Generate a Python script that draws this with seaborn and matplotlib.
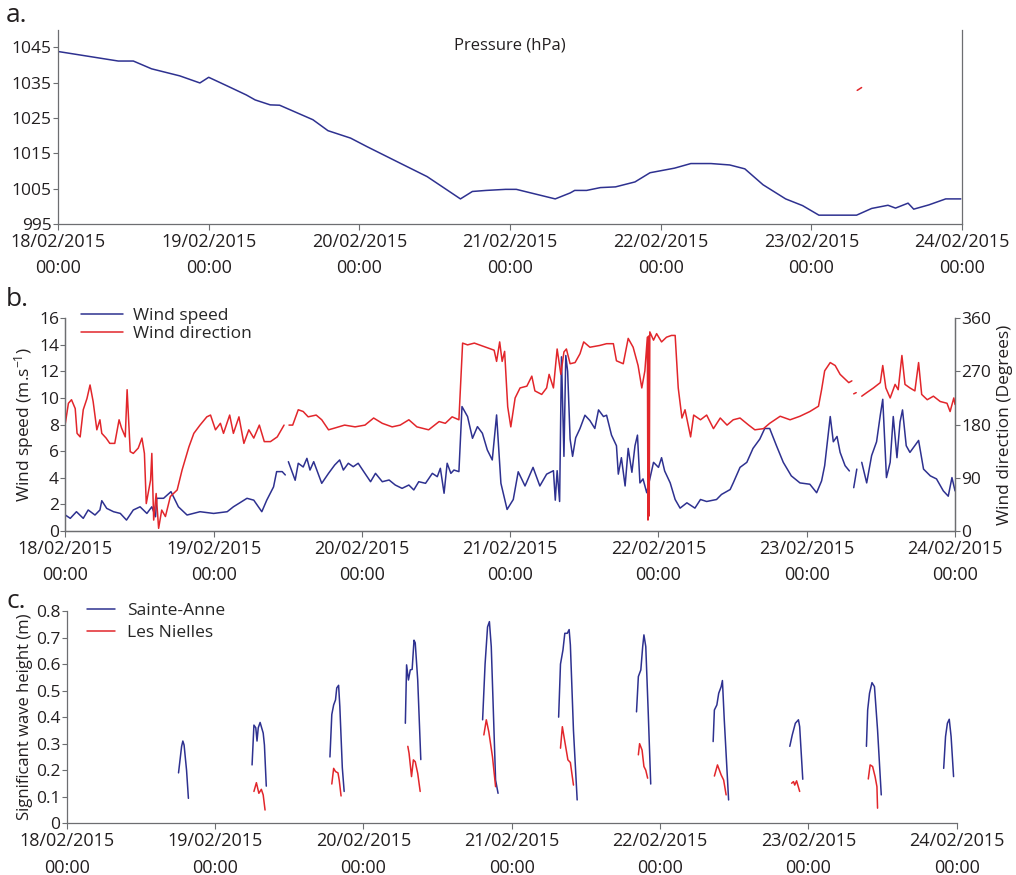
import numpy as np
import pandas as pd
import matplotlib
matplotlib.use('Agg')
from matplotlib import pyplot as plt
import matplotlib.dates as mdates
from matplotlib.lines import Line2D
from matplotlib.ticker import FuncFormatter
import seaborn as sns

sns.set_style('ticks')
plt.rcParams['font.family'] = ['Open Sans', 'DejaVu Sans']
plt.rcParams['mathtext.default'] = 'regular'

nan = np.nan
START = pd.Timestamp('2015-02-18 00:00')

# --- a. pressure (hours since 18/02/2015 00:00, hPa)
pressure_hours = [0, 9.6, 12.0, 14.9, 19.4, 22.6, 24.0, 26.9, 30.0, 31.4, 33.8, 35.3,
                  40.6, 43.0, 46.6, 49.2, 54.5, 58.8, 64.1, 66.0, 68.2, 71.3,
                  73.0, 79.2, 81.6, 82.3, 84.2, 86.4, 88.8, 91.9, 94.3, 98.2,
                  100.8, 104.0, 107.0, 109.4, 112.3, 115.9, 118.6, 121.2, 127.2,
                  129.6, 132.2, 133.4, 135.4, 136.3, 138.7, 141.4, 143.8]
pressure_hpa = [1043.8, 1041.1, 1041.1, 1038.9, 1036.9, 1034.9, 1036.5, 1034.1, 1031.5, 1030.1,
                1028.7, 1028.6, 1024.5, 1021.4, 1019.3, 1016.9, 1012.2, 1008.4, 1002.1, 1004.2,
                1004.5, 1004.8, 1004.8, 1002.1, 1003.8, 1004.5, 1004.5, 1005.3, 1005.5, 1006.9,
                1009.5, 1010.8, 1012.1, 1012.1, 1011.7, 1010.6, 1006.1, 1002.1, 1000.2, 997.5,
                997.5, 999.4, 1000.3, 999.5, 1000.9, 999.2, 1000.4, 1002.1, 1002.1]
pressure_red_hours = [127.3, 128.0]
pressure_red_hpa = [1032.8, 1033.6]

# --- b. wind speed (m/s) and direction (deg); nan = data gap
speed_hours = [0, 0.8, 1.8, 2.9, 3.7, 4.8, 5.6, 5.9, 6.7, 7.8, 8.9, 9.9, 11.0, 12.1, 13.2,
               14.0, 14.6, 14.8, 15.9, 17.1, 18.3, 19.7, 21.8, 24.0, 26.2, 27.2, 28.1, 29.4,
               30.5, 31.8, 32.6, 33.7, 34.2, 35.1, 35.6, nan,
               36.1, 37.2, 37.7, 38.5, 39.1, 39.6, 40.2, 40.9, 41.5, 42.6, 43.6, 44.4, 45.0,
               45.8, 46.6, 47.4, 48.3, 49.4, 50.2, 51.3, 52.4, 53.4, 54.5, 55.6, 56.4, 57.2,
               58.3, 59.4, 60.2, 60.7, 61.3, 61.8, 62.4, 62.9, 63.7, 64.2, 65.1,
               65.9, 66.7, 67.5, 68.3, 69.1, 69.8, 70.5, 71.5, 72.5, 73.3, 74.4, 75.7, 76.8,
               77.9, 79.0, 79.3, 79.6, 80.0, 80.3, 80.7, 81.0, 81.3, 81.7, 82.1, 82.6, 83.3,
               84.1, 84.9, 85.7, 86.3, 87.1, 87.6, 88.4, 89.2, 89.5, 90.0, 90.6, 91.1, 91.7,
               92.2, 92.6, 93.0, 93.5, 94.1, 94.6, 95.2, 96.0, 96.5, 97.0, 97.9, 98.7, 99.5,
               100.6, 101.9, 102.8, 103.8, 105.4, 106.2, 107.6, 108.1, 109.2, 110.3, 111.3,
               112.4, 113.2, 114.0, 115.1, 116.2, 117.5, 118.9, 120.5, 121.6, 122.4, 122.9,
               123.8, 124.3, 124.9, 125.4, 126.2, 126.9, nan,
               127.6, 128.1, nan,
               128.9, 129.7, 130.5, 131.3, 131.9, 132.3, 132.9, 133.5, 134.0, 134.6, 135.1,
               135.5, 136.1, 136.7, 138.1, 138.9, 140.0, 141.0, 142.1, 142.9, 143.5, 144.0]
speed_ms = [1.18, 0.93, 1.43, 0.93, 1.56, 1.18, 1.56, 2.26, 1.68, 1.43, 1.3, 0.8, 1.56, 1.8, 1.3,
            1.8, 1.05, 2.44, 2.44, 2.94, 1.8, 1.18, 1.43, 1.3, 1.43, 1.8, 2.06, 2.44,
            2.3, 1.43, 2.3, 3.3, 4.45, 4.45, 4.2, nan,
            5.2, 3.8, 5.08, 4.8, 5.45, 4.57, 5.2, 4.32, 3.57, 4.32, 4.95, 5.33, 4.57,
            5.08, 4.82, 5.08, 4.45, 3.69, 4.32, 3.69, 3.82, 3.44, 3.19, 3.44, 3.07, 3.69,
            3.57, 4.32, 4.07, 4.7, 2.82, 5.08, 4.32, 4.57, 4.45, 9.35, 8.6,
            6.96, 7.84, 7.34, 6.08, 5.33, 8.72, 3.57, 1.6, 2.35, 4.44, 3.37, 4.77, 3.37,
            4.26, 4.52, 2.3, 4.52, 2.2, 13.1, 5.6, 13.2, 12.0, 6.9, 5.6, 7.0, 7.7,
            8.7, 8.3, 7.7, 9.1, 8.6, 8.7, 7.2, 6.4, 4.26, 5.5, 3.37, 6.2, 4.4,
            6.4, 7.2, 3.6, 3.9, 2.86, 3.9, 5.15, 4.77, 5.5, 4.5, 3.6, 2.35, 1.7,
            2.1, 1.7, 2.35, 2.2, 2.35, 2.73, 3.1, 3.6, 4.77, 5.15, 6.2,
            6.9, 7.7, 7.7, 6.4, 5.15, 4.13, 3.6, 3.5, 2.86, 3.75, 4.9,
            8.6, 6.7, 7.1, 5.9, 4.9, 4.5, nan,
            3.24, 4.64, nan,
            5.15, 3.6, 5.66, 6.7, 8.7, 9.9, 4.0, 5.15, 8.6, 5.5, 8.2,
            9.1, 6.4, 5.9, 6.8, 4.64, 4.13, 3.9, 3.0, 2.6, 4.0, 3.0]

direction_hours = [0, 0.5, 1.0, 1.6, 1.9, 2.4, 2.9, 3.5, 4.0, 4.5, 5.1, 5.6, 5.9, 6.6, 7.2,
                   8.0, 8.7, 9.1, 9.7, 10.0, 10.5, 11.0, 11.8, 12.4, 12.8, 13.1, 13.8, 14.0,
                   14.3, 14.7, 15.1, 15.6, 16.2, 17.0, 18.1, 18.9, 20.0, 20.8, 21.8, 22.9,
                   23.5, 24.3, 25.1, 25.6, 26.6, 27.2, 28.1, 28.9, 29.7, 30.5, 31.4, 32.2,
                   33.2, 34.3, 35.4, nan,
                   36.2, 36.8, 37.7, 38.5, 39.3, 40.6, 41.5, 42.6, 43.6, 45.2, 46.9, 48.5,
                   49.9, 51.3, 52.9, 54.2, 55.6, 56.9, 58.8, 60.5, 61.5, 62.6, 63.7, 64.3,
                   65.1, 66.2, 67.8, 69.4, 69.8, 70.3, 70.7, 71.1, 71.6, 72.1, 72.8, 73.6,
                   74.7, 75.5, 76.0, 77.1, 77.9, 78.3, 79.0, 79.6, 80.2, 80.7, 81.1, 81.7,
                   82.5, 83.3, 83.9, 84.9, 86.5, 87.6, 88.7, 89.2, 90.3, 91.1, 91.9, 92.7,
                   93.3, 93.8, 94.2, 94.3, 94.4, 94.5, 94.6, 95.2, 95.7, 96.5, 97.3, 98.1,
                   98.7, 99.2, 99.8, 100.3, 101.2, 101.7, 102.8, 103.8, 104.9, 106.0, 107.1,
                   108.1, 109.2, 110.6, 111.6, 113.0, 114.0, 115.7, 117.3, 118.9, 120.5,
                   121.9, 122.4, 122.9, 123.8, 124.6, 125.4, 126.2, 126.8, 127.3, nan,
                   127.6, 128.0, nan,
                   128.9, 129.7, 130.8, 131.9, 132.3, 132.8, 133.5, 134.3, 134.8, 135.4,
                   135.9, 136.7, 137.5, 138.1, 138.6, 139.5, 140.5, 141.6, 142.7, 143.2,
                   143.8, 144.0]
direction_deg = [182, 216, 222, 207, 165, 159, 205, 224, 247, 219, 171, 188, 165, 157, 148,
                 148, 188, 174, 159, 239, 134, 131, 140, 157, 131, 46, 86, 131,
                 18, 63, 4, 35, 24, 58, 69, 103, 142, 165, 179, 193,
                 196, 171, 182, 165, 196, 165, 193, 148, 171, 157, 179, 151,
                 151, 159, 179, nan,
                 179, 179, 205, 202, 193, 196, 188, 171, 174, 179, 176, 179,
                 191, 182, 176, 179, 188, 176, 171, 185, 182, 193, 188, 318,
                 315, 318, 312, 306, 287, 320, 287, 304, 210, 176, 225, 242,
                 245, 262, 237, 231, 242, 265, 242, 308, 265, 303, 308, 283,
                 285, 300, 320, 311, 314, 317, 317, 288, 283, 326, 311, 280,
                 242, 271, 328, 18, 330, 25, 337, 323, 334, 320, 328, 331,
                 331, 242, 191, 205, 159, 196, 188, 196, 173, 191, 179,
                 188, 191, 179, 171, 173, 182, 194, 188, 194, 202,
                 211, 239, 271, 285, 280, 265, 257, 251, 254, nan,
                 232, 234, nan,
                 228, 234, 242, 251, 280, 242, 225, 248, 239, 297,
                 248, 242, 237, 285, 231, 222, 228, 219, 216, 202,
                 225, 214]

# --- c. significant wave height (m); nan separates tidal windows
sainte_anne_hours = [18.1, 18.4, 18.6, 18.8, 19.0, 19.4, 19.7, nan,
                     30.0, 30.3, 30.6, 30.8, 31.0, 31.3, 31.8, 32.0, 32.3, nan,
                     42.6, 42.9, 43.2, 43.5, 43.7, 44.0, 44.2, 44.6, 44.9, nan,
                     54.8, 55.0, 55.3, 55.6, 55.9, 56.2, 56.4, 56.8, 57.3, nan,
                     67.3, 67.7, 68.1, 68.4, 68.7, 69.4, 69.8, nan,
                     79.6, 79.9, 80.3, 80.6, 81.0, 81.3, 81.5, 82.0, 82.6, nan,
                     92.2, 92.5, 92.9, 93.2, 93.4, 93.7, 94.1, 94.5, nan,
                     104.6, 104.8, 105.2, 105.5, 105.9, 106.1, 106.4, 107.1, nan,
                     117.0, 117.4, 117.9, 118.4, 118.6, 119.1, nan,
                     129.4, 129.6, 129.9, 130.3, 130.7, 131.2, 131.8, nan,
                     141.9, 142.2, 142.5, 142.8, 143.1, 143.5]
sainte_anne_m = [0.19, 0.25, 0.29, 0.31, 0.295, 0.20, 0.094, nan,
                 0.22, 0.37, 0.36, 0.31, 0.36, 0.38, 0.34, 0.295, 0.14, nan,
                 0.25, 0.41, 0.446, 0.465, 0.51, 0.52, 0.44, 0.21, 0.12, nan,
                 0.377, 0.597, 0.54, 0.578, 0.58, 0.69, 0.68, 0.54, 0.24, nan,
                 0.39, 0.60, 0.74, 0.76, 0.666, 0.163, 0.113, nan,
                 0.40, 0.60, 0.653, 0.716, 0.716, 0.73, 0.672, 0.35, 0.088, nan,
                 0.42, 0.553, 0.578, 0.666, 0.71, 0.666, 0.415, 0.148, nan,
                 0.308, 0.427, 0.446, 0.49, 0.515, 0.538, 0.39, 0.088, nan,
                 0.29, 0.333, 0.377, 0.39, 0.364, 0.166, nan,
                 0.29, 0.427, 0.49, 0.53, 0.515, 0.352, 0.107, nan,
                 0.207, 0.327, 0.377, 0.392, 0.327, 0.176]
les_nielles_hours = [30.3, 30.7, 31.1, 31.5, 31.8, 32.1, nan,
                     42.9, 43.2, 43.5, 43.9, 44.1, 44.4, nan,
                     55.2, 55.4, 55.8, 56.1, 56.4, 56.8, 57.2, nan,
                     67.5, 67.9, 68.3, 68.9, 69.4, nan,
                     79.9, 80.2, 80.6, 81.1, 81.5, 82.0, nan,
                     92.5, 92.7, 93.1, 93.4, 93.7, 94.0, nan,
                     104.8, 105.3, 105.9, 106.3, 106.7, nan,
                     117.3, 117.6, 117.8, 118.1, 118.6, nan,
                     129.7, 130.0, 130.4, 130.8, 131.1, 131.2]
les_nielles_m = [0.12, 0.153, 0.113, 0.128, 0.107, 0.05, nan,
                 0.148, 0.207, 0.195, 0.19, 0.163, 0.103, nan,
                 0.29, 0.264, 0.176, 0.239, 0.232, 0.188, 0.12, nan,
                 0.333, 0.39, 0.345, 0.25, 0.138, nan,
                 0.283, 0.364, 0.308, 0.239, 0.229, 0.144, nan,
                 0.258, 0.30, 0.276, 0.214, 0.20, 0.17, nan,
                 0.178, 0.22, 0.182, 0.163, 0.107, nan,
                 0.151, 0.157, 0.144, 0.16, 0.12, nan,
                 0.167, 0.22, 0.214, 0.176, 0.138, 0.057]

BLUE = '#2e3190'
RED = '#e2262b'
GREY = '#6d6e71'
TXT = '#231f20'


def to_frame(hours, values):
    df = pd.DataFrame({'hour': hours, 'value': values})
    df['seg'] = df['value'].isna().cumsum()
    df = df.dropna().copy()
    df['time'] = START + pd.to_timedelta(df['hour'], unit='h')
    return df


def draw(ax, hours, values, color):
    sns.lineplot(data=to_frame(hours, values), x='time', y='value', units='seg',
                 estimator=None, color=color, lw=1.1, ax=ax, legend=False)


def style_axes(ax):
    ax.set_xlim(START, START + pd.Timedelta(days=6))
    ax.xaxis.set_major_locator(mdates.DayLocator())
    ax.xaxis.set_major_formatter(mdates.DateFormatter('%d/%m/%Y\n%H:%M'))
    ax.set_xlabel('')
    ax.tick_params(axis='x', labelsize=13, length=4.5, width=0.8, color=GREY,
                   labelcolor=TXT, pad=2)
    ax.tick_params(axis='y', labelsize=12.5, length=3.5, width=0.8, color=GREY,
                   labelcolor=TXT, pad=1)
    for s in ax.spines.values():
        s.set_color(GREY)
        s.set_linewidth(0.9)
    ax.spines['top'].set_visible(False)
    for lab in ax.get_xticklabels():
        lab.set_linespacing(1.6)


fig = plt.figure(figsize=(10.16, 8.75), dpi=100)
fig.patch.set_facecolor('white')

# a. pressure
ax_a = fig.add_axes([0.0571, 0.744, 0.8898, 0.2222])
draw(ax_a, pressure_hours, pressure_hpa, BLUE)
draw(ax_a, pressure_red_hours, pressure_red_hpa, RED)
style_axes(ax_a)
ax_a.set_ylim(995, 1050)
ax_a.set_yticks(np.arange(995, 1046, 10))
ax_a.set_ylabel('')
ax_a.spines['right'].set_visible(True)
ax_a.text(0.5, 0.92, 'Pressure (hPa)', transform=ax_a.transAxes, ha='center',
          va='center', fontsize=12, color=TXT)

# b. wind
ax_b = fig.add_axes([0.0643, 0.3935, 0.8757, 0.2427])
draw(ax_b, speed_hours, speed_ms, BLUE)
ax_b2 = ax_b.twinx()
draw(ax_b2, direction_hours, direction_deg, RED)
style_axes(ax_b)
style_axes(ax_b2)
ax_b2.spines['right'].set_visible(True)
ax_b.set_ylim(0, 16)
ax_b.set_yticks(np.arange(0, 17, 2))
ax_b2.set_ylim(0, 360)
ax_b2.set_yticks([0, 90, 180, 270, 360])
ax_b.set_ylabel('Wind speed (m.s$^{-1}$)', fontsize=12.5, color=TXT, labelpad=2)
ax_b2.set_ylabel('Wind direction (Degrees)', fontsize=12.5, color=TXT, labelpad=4)
handles = [Line2D([], [], color=BLUE, lw=1.1), Line2D([], [], color=RED, lw=1.1)]
ax_b.legend(handles, ['Wind speed', 'Wind direction'], loc='upper left',
            bbox_to_anchor=(0.01, 1.08), frameon=False, fontsize=12.5,
            handlelength=2.4, handletextpad=0.6, labelspacing=0.1, borderaxespad=0)

# c. wave height
ax_c = fig.add_axes([0.0656, 0.0591, 0.876, 0.2426])
draw(ax_c, sainte_anne_hours, sainte_anne_m, BLUE)
draw(ax_c, les_nielles_hours, les_nielles_m, RED)
style_axes(ax_c)
ax_c.spines['right'].set_visible(False)
ax_c.set_ylim(0, 0.8)
ax_c.set_yticks(np.arange(0, 0.81, 0.1))
ax_c.yaxis.set_major_formatter(FuncFormatter(lambda v, p: '0' if abs(v) < 1e-9 else f'{v:.1f}'))
ax_c.set_ylabel('Significant wave height (m)', fontsize=12, color=TXT, labelpad=2)
ax_c.legend(handles, ['Sainte-Anne', 'Les Nielles'], loc='upper left',
            bbox_to_anchor=(0.015, 1.07), frameon=False, fontsize=12.5,
            handlelength=1.6, handletextpad=0.7, labelspacing=0.3, borderaxespad=0)

for y, lab in [(0.997, 'a.'), (0.672, 'b.'), (0.327, 'c.')]:
    fig.text(0.006, y, lab, fontsize=19, va='top', ha='left', color=TXT)

fig.savefig('out.png', dpi=100, facecolor='white')
